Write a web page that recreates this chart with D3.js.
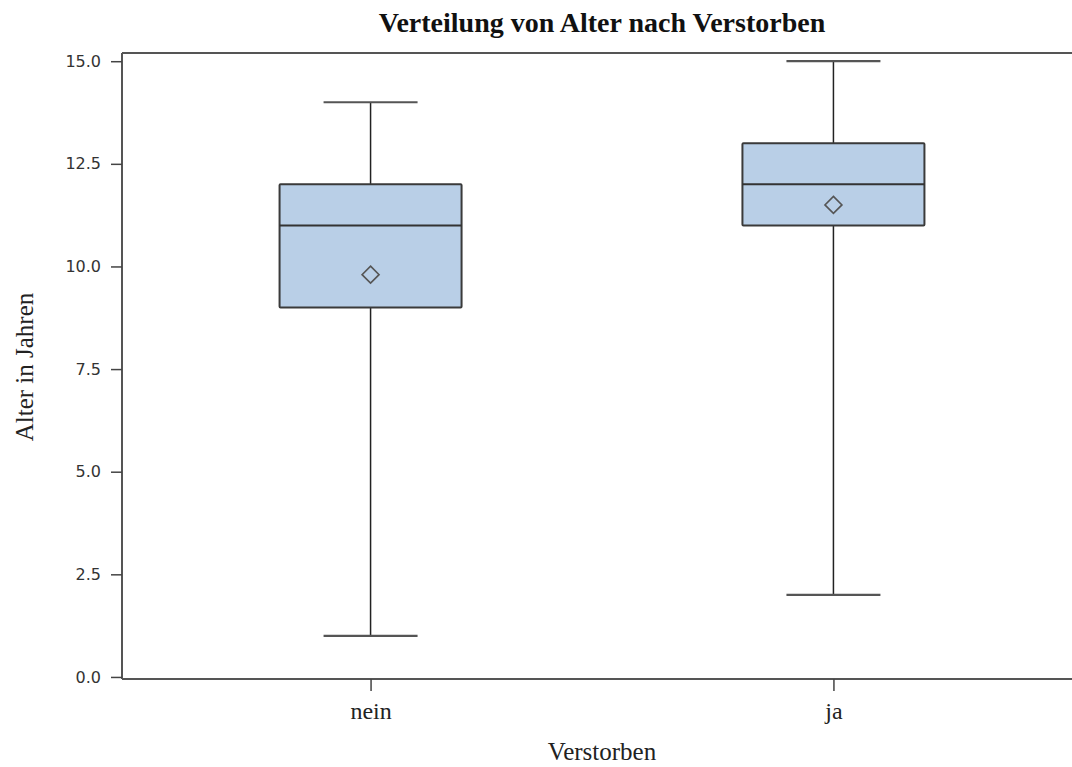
<!DOCTYPE html>
<html>
<head>
<meta charset="utf-8">
<script src="https://cdn.jsdelivr.net/npm/d3@7"></script>
<style>
  html, body { margin: 0; padding: 0; background: #fff; }
  svg { display: block; }
</style>
</head>
<body>
<svg id="chart" width="1072" height="767"></svg>
<script>
// Box plot of age by death status
const categories = ["nein", "ja"];
const whiskerLow  = [1, 2];
const q1          = [9, 11];
const median      = [11, 12];
const q3          = [12, 13];
const whiskerHigh = [14, 15];
const mean        = [9.8, 11.5];
const yTicks      = [0, 2.5, 5, 7.5, 10, 12.5, 15];

const title  = "Verteilung von Alter nach Verstorben";
const xTitle = "Verstorben";
const yTitle = "Alter in Jahren";

const plot = { left: 122, right: 1082, top: 53, bottom: 679 };

const svg = d3.select("#chart");

const y = d3.scaleLinear().domain([-0.05, 15.2]).range([plot.bottom, plot.top]);
const x = d3.scalePoint().domain(categories).range([plot.left, plot.right]).padding(0.537);

const boxW = 182, capW = 94;
const serif = "'Liberation Serif', 'Times New Roman', serif";
const sans  = "'DejaVu Sans', sans-serif";

const rows = categories.map((c, i) => ({
  c, lo: whiskerLow[i], q1: q1[i], med: median[i], q3: q3[i], hi: whiskerHigh[i], mean: mean[i]
}));

const g = svg.append("g");
rows.forEach(d => {
  const cx = x(d.c);
  // Whiskers
  g.append("line").attr("x1", cx).attr("x2", cx).attr("y1", y(d.hi)).attr("y2", y(d.q3))
    .attr("stroke", "#222").attr("stroke-width", 1.5);
  g.append("line").attr("x1", cx).attr("x2", cx).attr("y1", y(d.q1)).attr("y2", y(d.lo))
    .attr("stroke", "#222").attr("stroke-width", 1.5);
  [d.lo, d.hi].forEach(v => {
    g.append("line").attr("x1", cx - capW / 2).attr("x2", cx + capW / 2)
      .attr("y1", y(v)).attr("y2", y(v))
      .attr("stroke", "#555").attr("stroke-width", 2.2);
  });
  // Box
  g.append("rect").attr("x", cx - boxW / 2).attr("y", y(d.q3))
    .attr("width", boxW).attr("height", y(d.q1) - y(d.q3))
    .attr("fill", "#b9cfe7").attr("stroke", "#3a3a3a").attr("stroke-width", 2).attr("rx", 1);
  // Median
  g.append("line").attr("x1", cx - boxW / 2).attr("x2", cx + boxW / 2)
    .attr("y1", y(d.med)).attr("y2", y(d.med))
    .attr("stroke", "#333").attr("stroke-width", 2);
  // Mean marker
  const r = 8.5, my = y(d.mean);
  g.append("path")
    .attr("d", `M${cx},${my - r}L${cx + r},${my}L${cx},${my + r}L${cx - r},${my}Z`)
    .attr("fill", "none").attr("stroke", "#555").attr("stroke-width", 1.6);
});

// Frame (top and right edges)
svg.append("path")
  .attr("d", `M${plot.left},${plot.top}H${plot.right}V${plot.bottom}`)
  .attr("fill", "none").attr("stroke", "#555").attr("stroke-width", 2);

// Y axis
const yAxis = svg.append("g").attr("transform", `translate(${plot.left},0)`)
  .call(d3.axisLeft(y).tickValues(yTicks).tickSize(11).tickPadding(10).tickFormat(d3.format(".1f")));
yAxis.select(".domain").attr("d", `M0,${plot.top}V${plot.bottom}`).attr("stroke", "#555").attr("stroke-width", 2);
yAxis.selectAll(".tick line").attr("stroke", "#444").attr("stroke-width", 1.5);
yAxis.selectAll(".tick text").attr("font-family", sans).attr("font-size", 16).attr("fill", "#333");

// X axis
const xAxis = svg.append("g").attr("transform", `translate(0,${plot.bottom})`)
  .call(d3.axisBottom(x).tickSize(12).tickPadding(12));
xAxis.select(".domain").attr("d", `M${plot.left},0H${plot.right}`).attr("stroke", "#555").attr("stroke-width", 2);
xAxis.selectAll(".tick line").attr("stroke", "#444").attr("stroke-width", 1.5);
xAxis.selectAll(".tick text").attr("font-family", serif).attr("font-size", 24).attr("fill", "#222")
  .attr("y", 40).attr("dy", 0);

// Titles
svg.append("text").attr("x", 602).attr("y", 32).attr("text-anchor", "middle")
  .attr("font-family", serif).attr("font-weight", "bold").attr("font-size", 28)
  .attr("fill", "#111").text(title);

svg.append("text").attr("x", (plot.left + plot.right) / 2).attr("y", 760).attr("text-anchor", "middle")
  .attr("font-family", serif).attr("font-size", 25).attr("fill", "#222").text(xTitle);

svg.append("text").attr("transform", `translate(33,367) rotate(-90)`)
  .attr("text-anchor", "middle")
  .attr("font-family", serif).attr("font-size", 25).attr("fill", "#222").text(yTitle);
</script>
</body>
</html>
